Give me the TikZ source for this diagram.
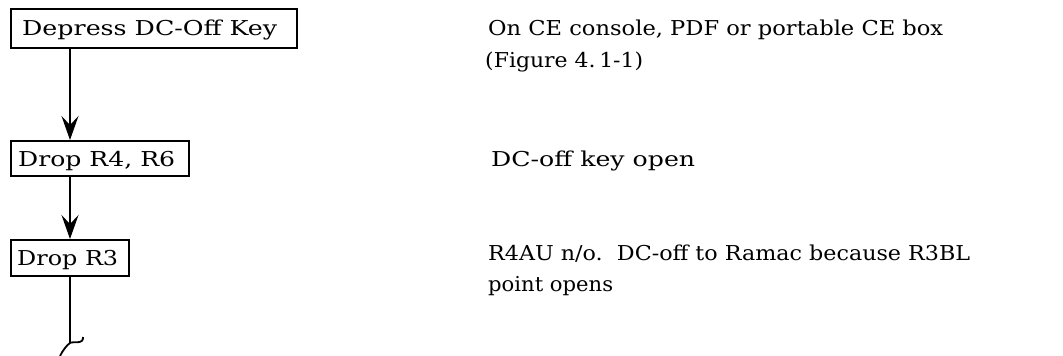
\documentclass[tikz,border=0pt]{standalone}
\usepackage{fontspec}
\usepackage{graphicx}
\setmainfont{DejaVu Serif}
\usetikzlibrary{arrows.meta}
\newcommand\fitw[2]{\resizebox{#1pt}{\height}{#2}}
\begin{document}
\begin{tikzpicture}[x=1pt,y=-1pt,
  stepbox/.style={draw,line width=1.6pt,inner sep=0pt,anchor=north west,minimum height=#1},
  flow/.style={line width=1.8pt,-{Stealth[length=24pt,width=17pt,inset=9pt]}},
  txt/.style={anchor=base west,inner sep=0pt},
  font=\fontsize{20.5}{32}\selectfont]
\useasboundingbox (0,0) rectangle (1063,356);
% boxes
\node[stepbox=39pt,minimum width=286pt] (b1) at (10,8) {};
\node[txt] at (22,35) {\fitw{255}{Depress DC-Off Key}};
\node[stepbox=35pt,minimum width=178pt] (b2) at (10,140) {};
\node[txt] at (18,166) {\fitw{157}{Drop R4, R6}};
\node[stepbox=36pt,minimum width=118pt] (b3) at (10,239) {};
\node[txt] at (17,265) {\fitw{101}{Drop R3}};
% connectors
\coordinate (c1) at (70,47);
\coordinate (c2) at (70,140);
\coordinate (c3) at (70,175);
\coordinate (c4) at (70,239);
\coordinate (c5) at (70,275);
\coordinate (e) at (70,343);
\coordinate (ea) at (83,337);
\coordinate (eb) at (60,356);
\draw[flow] (c1) -- (c2);
\draw[flow] (c3) -- (c4);
\draw[line width=1.8pt] (c5) -- (e);
\draw[line width=1.8pt] (ea) .. controls (84,345) and (72,341) .. (e) .. controls (67,345) and (63,350) .. (eb);
% notes
\node[txt] (n1) at (488,35) {\fitw{455}{On CE console, PDF or portable CE box}};
\node[txt] (n2) at (485,67) {\fitw{158}{(Figure 4.\,1-1)}};
\node[txt] (n3) at (491,166) {\fitw{204}{DC-off key open}};
\node[txt] (n4) at (488,260) {\fitw{482}{R4AU n/o.\ \ DC-off to Ramac because R3BL}};
\node[txt] (n5) at (488,291) {\fitw{125}{point opens}};
\end{tikzpicture}
\end{document}
